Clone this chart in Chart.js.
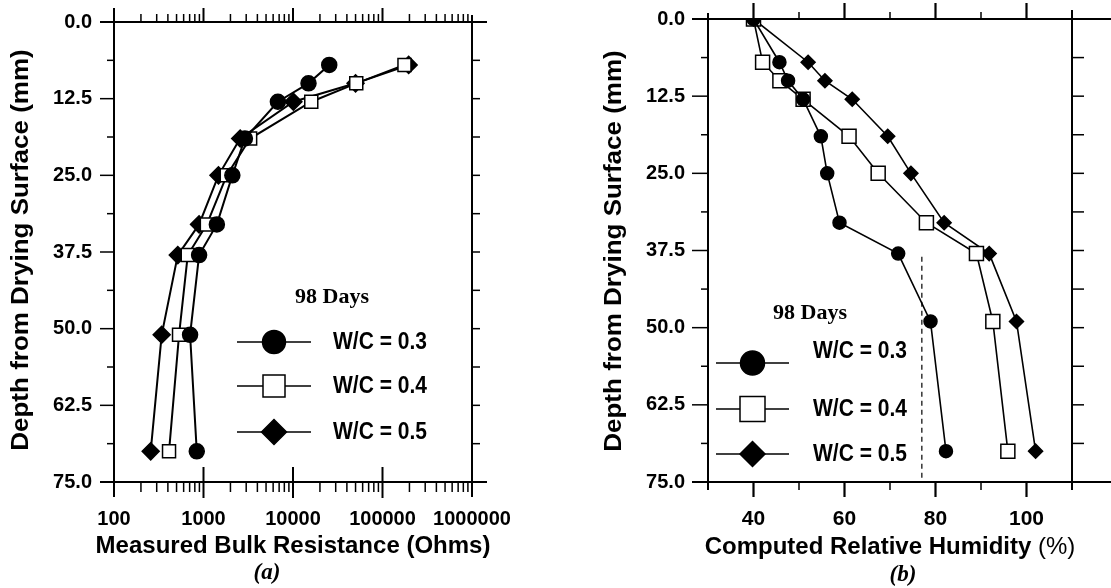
<!DOCTYPE html>
<html>
<head>
<meta charset="utf-8">
<script src="https://cdn.jsdelivr.net/npm/chart.js@4.4.1/dist/chart.umd.min.js"></script>
<style>
  html, body { margin: 0; padding: 0; background: #fff; }
  #wrap { position: relative; width: 1111px; height: 588px; overflow: hidden; background: #fff; }
  .panel { position: absolute; top: 0; }
  canvas { display: block; }
</style>
</head>
<body>
<div id="wrap">
  <div class="panel" style="left:0px"><canvas id="panelA" width="560" height="588" style="width:560px;height:588px"></canvas></div>
  <div class="panel" style="left:560px"><canvas id="panelB" width="551" height="588" style="width:551px;height:588px"></canvas></div>
</div>
<script>
// ---- Data: panel (a) bulk resistance vs depth ----
const depthA = [7, 10, 13, 19, 25, 33, 38, 51, 70];
const resistWC03 = [25400, 14900, 6780, 2900, 2100, 1410, 893, 708, 841];
const resistWC04 = [176000, 50900, 16000, 3320, 1820, 1090, 667, 533, 412];
const resistWC05 = [196000, 50000, 10100, 2570, 1470, 893, 516, 341, 257];

// ---- Data: panel (b) computed relative humidity vs depth ----
const depthB = [0, 7, 10, 13, 19, 25, 33, 38, 49, 70];
const rhWC03 = [40, 45.7, 47.6, 50.9, 54.8, 56.2, 58.9, 71.8, 78.9, 82.3];
const rhWC04 = [40, 42.0, 45.8, 50.9, 61.0, 67.4, 78.0, 89.0, 92.6, 95.9];
const rhWC05 = [40, 52.0, 55.7, 61.7, 69.5, 74.6, 81.9, 91.8, 97.8, 102.0];

// Dashed reference line in panel (b)
const refLineRH = [77, 77];
const refLineDepth = [38.5, 75];

const seriesLabels = ['W/C = 0.3', 'W/C = 0.4', 'W/C = 0.5'];
const ageLabel = '98 Days';
const depthTicks = [0, 12.5, 25, 37.5, 50, 62.5, 75];
const rhTickLabels = [40, 60, 80, 100];

const SANS = '"Liberation Sans", Arial, sans-serif';
const SERIF = '"Liberation Serif", "Times New Roman", serif';

function pairs(xs, ys) { return xs.map((v, i) => ({ x: v, y: ys[i] })); }

function line(ctx, x1, y1, x2, y2) {
  ctx.beginPath(); ctx.moveTo(x1, y1); ctx.lineTo(x2, y2); ctx.stroke();
}

function marker(ctx, style, x, y, r, fill) {
  ctx.beginPath();
  if (style === 'circle') {
    ctx.arc(x, y, r, 0, Math.PI * 2);
  } else if (style === 'rect') {
    ctx.rect(x - r, y - r, 2 * r, 2 * r);
  } else {
    ctx.moveTo(x - r, y); ctx.lineTo(x, y - r); ctx.lineTo(x + r, y); ctx.lineTo(x, y + r); ctx.closePath();
  }
  ctx.fillStyle = fill; ctx.fill();
  ctx.lineWidth = 1.5; ctx.strokeStyle = '#000'; ctx.stroke();
}

function stretchedText(ctx, text, x, y, font, sy) {
  ctx.save();
  ctx.translate(x, y);
  ctx.scale(1, sy);
  ctx.font = font;
  ctx.fillText(text, 0, 0);
  ctx.restore();
}

// Legend block inside the plot: heading, then a line+marker sample per series
function drawLegend(ctx, cfg) {
  ctx.save();
  ctx.fillStyle = '#000';
  ctx.textAlign = 'center'; ctx.textBaseline = 'middle';
  ctx.font = 'bold 22px ' + SERIF;
  ctx.fillText(ageLabel, cfg.headX, cfg.headY);
  const styles = ['circle', 'rect', 'rectRot'];
  const fills = ['#000', '#fff', '#000'];
  cfg.rows.forEach((row, i) => {
    ctx.strokeStyle = '#000'; ctx.lineWidth = 1.5;
    line(ctx, cfg.lineX1, row.y, cfg.lineX2, row.y);
    marker(ctx, styles[i], (cfg.lineX1 + cfg.lineX2) / 2, row.y, cfg.sizes[i], fills[i]);
    ctx.fillStyle = '#000';
    ctx.textAlign = 'left'; ctx.textBaseline = 'middle';
    stretchedText(ctx, seriesLabels[i], cfg.textX, row.ty, 'bold 21px ' + SANS, 1.15);
  });
  ctx.restore();
}

// Rotated axis title, slightly stretched along its length
function drawYTitle(ctx, text, x, y) {
  ctx.save();
  ctx.translate(x, y);
  ctx.rotate(-Math.PI / 2);
  ctx.scale(1.13, 1);
  ctx.fillStyle = '#000';
  ctx.textAlign = 'center'; ctx.textBaseline = 'middle';
  ctx.font = 'bold 23px ' + SANS;
  ctx.fillText(text, 0, 0);
  ctx.restore();
}

function drawCaption(ctx, text, x, y) {
  ctx.save();
  ctx.fillStyle = '#000';
  ctx.textAlign = 'center'; ctx.textBaseline = 'middle';
  ctx.font = 'italic bold 23px ' + SERIF;
  ctx.fillText(text, x, y);
  ctx.restore();
}

// Pin an axis box to a fixed size and drop its label-overflow padding
function pinVertical(width) {
  return (s) => { s.width = width; s.paddingTop = 0; s.paddingBottom = 0; };
}
function pinHorizontal(height) {
  return (s) => { s.height = height; s.paddingLeft = 0; s.paddingRight = 0; };
}

// ---- Panel (a): frame, log ticks, titles and legend ----
const decorA = {
  id: 'decorA',
  afterDraw(chart) {
    const ctx = chart.ctx, xs = chart.scales.x, ys = chart.scales.y;
    const a = chart.chartArea, L = a.left, R = a.right, T = a.top, B = a.bottom;
    ctx.save();
    ctx.strokeStyle = '#000'; ctx.lineCap = 'butt';
    ctx.lineWidth = 2;
    line(ctx, L - 14, T, R + 15, T);
    line(ctx, L - 14, B, R + 15, B);
    line(ctx, L, T - 14, L, B + 15);
    line(ctx, R, T - 7, R, B + 15);
    ctx.lineWidth = 1.5;
    for (let e = 2; e < 6; e++) {
      for (let m = 2; m < 10; m++) {
        const px = xs.getPixelForValue(m * Math.pow(10, e));
        line(ctx, px, T, px, T - 8);
        line(ctx, px, B, px, B + 10);
      }
    }
    ctx.lineWidth = 2;
    for (let e = 3; e < 6; e++) {
      const px = xs.getPixelForValue(Math.pow(10, e));
      line(ctx, px, T, px, T - 14);
      line(ctx, px, B - 15, px, B + 16);
    }
    ctx.lineWidth = 1.5;
    for (let d = 0; d <= 75; d += 6.25) {
      const py = ys.getPixelForValue(d);
      const major = Math.abs(d / 12.5 - Math.round(d / 12.5)) < 1e-9;
      line(ctx, major ? L - 14 : L - 7, py, L, py);
      line(ctx, R, py, R + 8, py);
    }
    ctx.restore();

    drawYTitle(ctx, 'Depth from Drying Surface (mm)', 22, 250);
    ctx.save();
    ctx.fillStyle = '#000'; ctx.textAlign = 'center'; ctx.textBaseline = 'middle';
    ctx.font = 'bold 24px ' + SANS;
    ctx.fillText('Measured Bulk Resistance (Ohms)', (L + R) / 2, 546);
    ctx.restore();
    drawCaption(ctx, '(a)', 267, 573);

    drawLegend(ctx, {
      headX: 332, headY: 297,
      lineX1: 237, lineX2: 311, textX: 333,
      sizes: [11.5, 11, 12.5],
      rows: [{ y: 342, ty: 342 }, { y: 386, ty: 386 }, { y: 432, ty: 432 }]
    });
  }
};

// ---- Panel (b): frame, linear ticks, titles and legend ----
const decorB = {
  id: 'decorB',
  afterDraw(chart) {
    const ctx = chart.ctx, xs = chart.scales.x, ys = chart.scales.y;
    const a = chart.chartArea, L = a.left, R = a.right, T = a.top, B = a.bottom;
    const W = chart.width;
    ctx.save();
    ctx.strokeStyle = '#000'; ctx.lineCap = 'butt';
    ctx.lineWidth = 2;
    line(ctx, L - 16, T, W, T);
    line(ctx, L - 16, B, W, B);
    line(ctx, L, T - 6, L, B + 8);
    line(ctx, R, T - 9, R, B + 8);
    for (let v = 40; v <= 100; v += 10) {
      const px = xs.getPixelForValue(v);
      const major = v % 20 === 0;
      ctx.lineWidth = major ? 2.2 : 1.5;
      line(ctx, px, T, px, T - (major ? 16 : 7));
      line(ctx, px, B, px, B + (major ? 15 : 8));
    }
    ctx.lineWidth = 1.5;
    for (let d = 0; d <= 75; d += 6.25) {
      const py = ys.getPixelForValue(d);
      const major = Math.abs(d / 12.5 - Math.round(d / 12.5)) < 1e-9;
      line(ctx, major ? L - 16 : L - 7, py, L, py);
      line(ctx, R, py, R + 12, py);
    }
    ctx.restore();

    drawYTitle(ctx, 'Depth from Drying Surface (mm)', 55, 251);

    // x title: bold words followed by a regular-weight unit
    ctx.save();
    ctx.fillStyle = '#000'; ctx.textBaseline = 'middle'; ctx.textAlign = 'left';
    const boldPart = 'Computed Relative Humidity ';
    const unitPart = '(%)';
    ctx.font = 'bold 24px ' + SANS;
    const wBold = ctx.measureText(boldPart).width;
    ctx.font = '24px ' + SANS;
    const wUnit = ctx.measureText(unitPart).width;
    const x0 = (L + R) / 2 - (wBold + wUnit) / 2;
    ctx.font = 'bold 24px ' + SANS;
    ctx.fillText(boldPart, x0, 547);
    ctx.font = '24px ' + SANS;
    ctx.fillText(unitPart, x0 + wBold, 547);
    ctx.restore();
    drawCaption(ctx, '(b)', 343, 575);

    drawLegend(ctx, {
      headX: 250, headY: 313,
      lineX1: 156, lineX2: 229, textX: 253,
      sizes: [12, 12.5, 12.5],
      rows: [{ y: 363, ty: 351 }, { y: 409, ty: 409 }, { y: 454, ty: 454 }]
    });
  }
};

function seriesSet(xs, ys, lw, sizes) {
  const styles = ['circle', 'rect', 'rectRot'];
  const fills = ['#000', '#fff', '#000'];
  return xs.map((vals, i) => ({
    label: seriesLabels[i],
    data: pairs(vals, ys),
    showLine: true,
    borderColor: '#000',
    borderWidth: lw,
    pointStyle: styles[i],
    pointRadius: sizes[i],
    pointBackgroundColor: fills[i],
    pointBorderColor: '#000',
    pointBorderWidth: 1.5,
    tension: 0
  }));
}

new Chart(document.getElementById('panelA'), {
  type: 'scatter',
  data: {
    datasets: seriesSet([resistWC03, resistWC04, resistWC05], depthA, 2, [7.5, 9.2, 8.5])
  },
  options: {
    responsive: false,
    animation: false,
    layout: { padding: { top: 22, right: 88, left: 0, bottom: 0 } },
    plugins: { legend: { display: false }, tooltip: { enabled: false } },
    scales: {
      x: {
        type: 'logarithmic', position: 'bottom', min: 100, max: 1000000,
        grid: { display: false }, border: { display: false },
        ticks: {
          autoSkip: false, maxRotation: 0, padding: 17, color: '#000',
          font: { family: SANS, size: 20, weight: 'bold' },
          callback: (v) => {
            const e = Math.log10(v);
            return Math.abs(e - Math.round(e)) < 1e-9 ? String(v) : '';
          }
        },
        afterFit: pinHorizontal(106)
      },
      y: {
        type: 'linear', position: 'left', reverse: true, min: 0, max: 75,
        grid: { display: false }, border: { display: false },
        afterBuildTicks: (s) => { s.ticks = depthTicks.map(v => ({ value: v })); },
        ticks: {
          autoSkip: false, padding: 14, color: '#000',
          font: { family: SANS, size: 20, weight: 'bold' },
          callback: (v) => Number(v).toFixed(1)
        },
        afterFit: pinVertical(114)
      }
    }
  },
  plugins: [decorA]
});

const refLine = {
  label: 'ref',
  data: pairs(refLineRH, refLineDepth),
  showLine: true,
  borderColor: '#000',
  borderWidth: 1.2,
  borderDash: [5, 4],
  pointRadius: 0
};

new Chart(document.getElementById('panelB'), {
  type: 'scatter',
  data: {
    datasets: [refLine].concat(seriesSet([rhWC03, rhWC04, rhWC05], depthB, 1.6, [6.5, 9.9, 7]))
  },
  options: {
    responsive: false,
    animation: false,
    layout: { padding: { top: 19, right: 39, left: 0, bottom: 0 } },
    plugins: { legend: { display: false }, tooltip: { enabled: false } },
    scales: {
      x: {
        type: 'linear', position: 'bottom', min: 30, max: 110,
        grid: { display: false }, border: { display: false },
        afterBuildTicks: (s) => { s.ticks = rhTickLabels.map(v => ({ value: v })); },
        ticks: {
          autoSkip: false, maxRotation: 0, padding: 17, color: '#000',
          font: { family: SANS, size: 21, weight: 'bold' }
        },
        afterFit: pinHorizontal(106)
      },
      y: {
        type: 'linear', position: 'left', reverse: true, min: 0, max: 75,
        grid: { display: false }, border: { display: false },
        afterBuildTicks: (s) => { s.ticks = depthTicks.map(v => ({ value: v })); },
        ticks: {
          autoSkip: false, padding: 15, color: '#000',
          font: { family: SANS, size: 20, weight: 'bold' },
          callback: (v) => Number(v).toFixed(1)
        },
        afterFit: pinVertical(148)
      }
    }
  },
  plugins: [decorB]
});
</script>
</body>
</html>
